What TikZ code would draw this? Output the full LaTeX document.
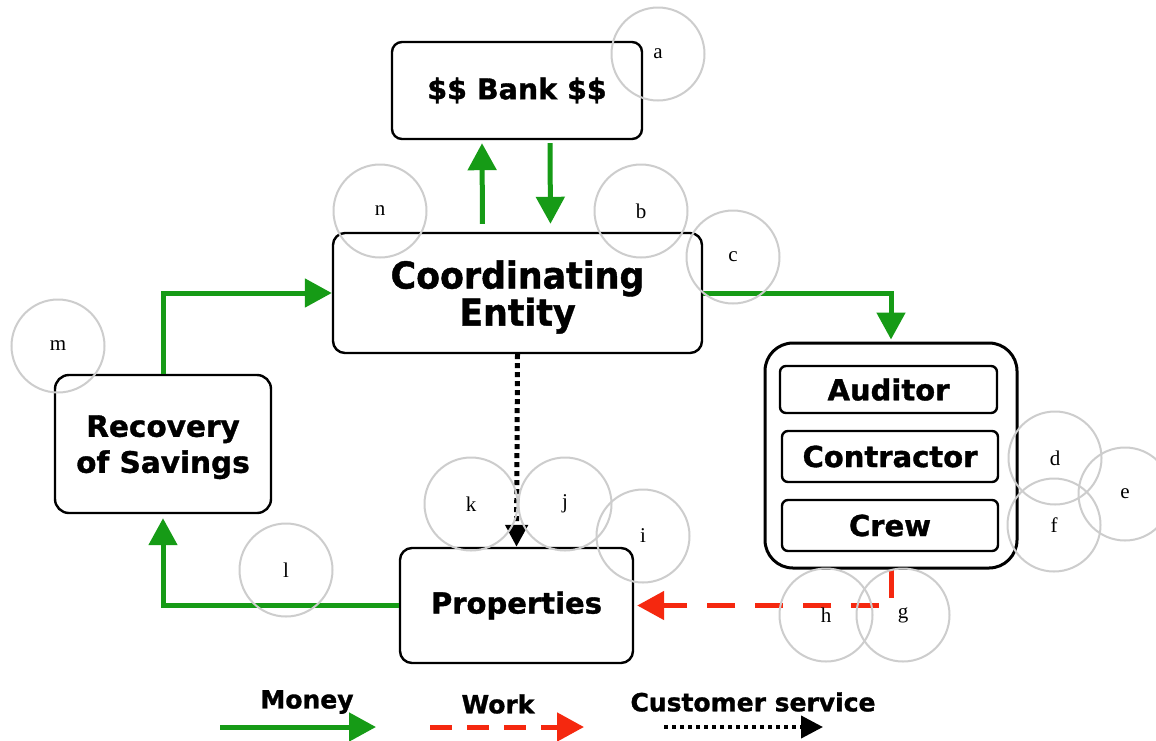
\documentclass[tikz,border=0pt]{standalone}
\usepackage{fontspec}
\setmainfont{DejaVu Sans}
\newfontfamily\lblfont[FakeBold=1.2]{DejaVu Sans Bold}
\newfontfamily\lblnarrow[FakeBold=1.2,FakeStretch=0.94]{DejaVu Sans Bold}
\newfontfamily\lettfont{Liberation Serif}
\usetikzlibrary{arrows.meta,calc}
\definecolor{mgreen}{RGB}{22,155,22}
\definecolor{wred}{RGB}{245,40,15}
\definecolor{cgray}{RGB}{205,205,205}
\begin{document}
\begin{tikzpicture}[x=1pt,y=-1pt,
  box/.style={draw=black,line width=2.4pt,fill=white,align=center,inner sep=0pt,font=\lblfont},
  money/.style={draw=mgreen,line width=5pt,-{Triangle[width=28pt,length=27pt]},color=mgreen},
  work/.style={draw=wred,line width=5pt,dash pattern=on 28pt off 20pt,-{Triangle[width=28pt,length=27pt]},color=wred},
  service/.style={draw=black,line width=5pt,dash pattern=on 5pt off 4pt,-{Triangle[width=22pt,length=22pt]}},
  lett/.style={circle,draw=cgray,line width=2pt,minimum size=93pt,inner sep=0pt,font=\lettfont\fontsize{21}{21}\selectfont},
  legtext/.style={font=\lblfont\fontsize{25}{28}\selectfont}
]
\useasboundingbox (0,0) rectangle (1156,740);
\fill[white] (0,0) rectangle (1156,740);

% boxes
\node[box,rounded corners=10pt,minimum width=250pt,minimum height=97pt,font=\lblfont\fontsize{28.5}{32}\selectfont] (bank) at (517,90.5) {\$\$ Bank \$\$};
\node[box,rounded corners=12pt,minimum width=369pt,minimum height=120pt,text depth=0pt,font=\lblnarrow\fontsize{37}{36}\selectfont] (coord) at (517.5,293) {Coordinating\\Entity};
\node[box,line width=3pt,rounded corners=28pt,minimum width=252pt,minimum height=225pt] (outer) at (891,455.5) {};
\node[box,rounded corners=6pt,minimum width=217pt,minimum height=47pt,font=\lblfont\fontsize{29}{32}\selectfont] (aud) at (888.5,389.5) {Auditor};
\node[box,rounded corners=6pt,minimum width=216pt,minimum height=51pt,font=\lblfont\fontsize{29}{32}\selectfont] (con) at (890,456.5) {Contractor};
\node[box,rounded corners=6pt,minimum width=216pt,minimum height=51pt,font=\lblfont\fontsize{29}{32}\selectfont] (crew) at (890,525.5) {Crew};
\node[box,rounded corners=14pt,minimum width=216pt,minimum height=138pt,text depth=0pt,font=\lblfont\fontsize{29.5}{36}\selectfont] (rec) at (163,444) {Recovery\\of Savings};
\node[box,rounded corners=12pt,minimum width=233pt,minimum height=115pt,font=\lblfont\fontsize{29}{32}\selectfont] (prop) at (516.5,605.5) {Properties};

% connectors
\draw[money,shorten <=8pt,shorten >=3pt] ([xshift=-35pt]coord.north) -- ([xshift=-35pt]bank.south);
\draw[money,shorten <=3pt,shorten >=8pt] ([xshift=33pt]bank.south) -- ([xshift=33pt]coord.north);
\draw[money,shorten >=2pt] (coord.east) -| (outer.north);
\draw[money,shorten >=4pt] (prop.west) -| (rec.south);
\draw[money] (rec.north) |- (coord.west);
\draw[service] (coord.south) -- (prop.north);
\draw[work,shorten >=3pt] (outer.south) |- (prop.east);

% legend
\coordinate (ma) at (220,727); \coordinate (mb) at (376,727);
\coordinate (wa) at (430,727); \coordinate (wb) at (584,727);
\coordinate (sa) at (664,727); \coordinate (sb) at (823,727);
\draw[money] (ma) -- (mb);
\draw[work,dash pattern=on 22pt off 15pt] (wa) -- (wb);
\draw[service,line width=4pt,dash pattern=on 4pt off 4pt] (sa) -- (sb);
\node[legtext] (lm) at (307,702) {Money};
\node[legtext] (lw) at (498,704) {Work};
\node[legtext] (ls) at (753,702) {Customer service};

% letter circles
\node[lett] (ca) at (658,54) {a};
\node[lett] (cb) at (641,211) {b};
\node[lett] (cc) at (733,257) {c};
\node[lett] (cd) at (1055,458) {d};
\node[lett] (ce) at (1125,494) {e};
\node[lett] (cf) at (1054,525) {f};
\node[lett] (cg) at (903,615) {g};
\node[lett] (ch) at (826,615) {h};
\node[lett] (ci) at (643,536) {i};
\node[lett] (cj) at (565,504) {j};
\node[lett] (ck) at (471,504) {k};
\node[lett] (cl) at (286,570) {l};
\node[lett] (cm) at (58,346) {m};
\node[lett] (cn) at (380,211) {n};
\end{tikzpicture}
\end{document}
